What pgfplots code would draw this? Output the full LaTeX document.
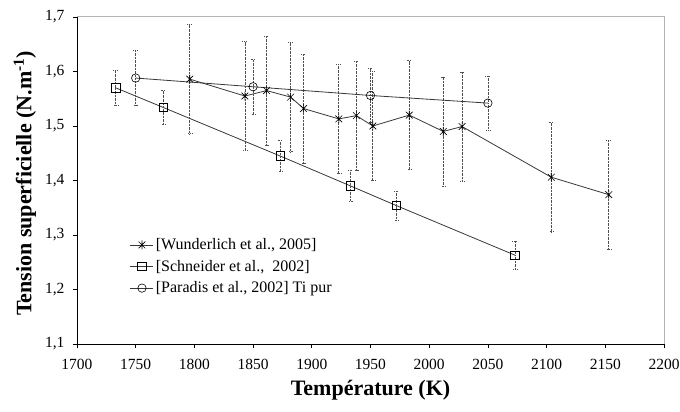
\documentclass[border=0pt]{standalone}
\usepackage{fontspec}
\setmainfont{Liberation Serif}
\usepackage{pgfplots}
\pgfplotsset{compat=1.18}
\definecolor{ln}{HTML}{383838}
\definecolor{eb}{HTML}{505050}
\definecolor{bord}{HTML}{B4B4B4}
\pgfdeclareplotmark{xstar}{%
  \pgfpathmoveto{\pgfqpoint{0pt}{\pgfplotmarksize}}%
  \pgfpathlineto{\pgfqpoint{0pt}{-\pgfplotmarksize}}%
  \pgfpathmoveto{\pgfqpoint{0.75\pgfplotmarksize}{0.75\pgfplotmarksize}}%
  \pgfpathlineto{\pgfqpoint{-0.75\pgfplotmarksize}{-0.75\pgfplotmarksize}}%
  \pgfpathmoveto{\pgfqpoint{-0.75\pgfplotmarksize}{0.75\pgfplotmarksize}}%
  \pgfpathlineto{\pgfqpoint{0.75\pgfplotmarksize}{-0.75\pgfplotmarksize}}%
  \pgfusepathqstroke
  \pgfpathcircle{\pgfpointorigin}{0.8pt}\pgfusepathqfill}
\pgfplotstableread{
x y e
1796 1.586 0.1
1843 1.555 0.1
1861.5 1.565 0.1
1882 1.553 0.1
1893 1.532 0.1
1923 1.513 0.1
1938 1.519 0.1
1952 1.500 0.1
1983 1.520 0.1
2012 1.490 0.1
2028 1.499 0.1
2104 1.406 0.1
2153 1.374 0.1
}\wund
\pgfplotstableread{
x y e
1733 1.570 0.032
1773.5 1.534 0.031
1873 1.445 0.028
1933 1.390 0.028
1972 1.354 0.027
2073 1.263 0.026
}\schn
\pgfplotstableread{
x y e
1750 1.588 0.05
1850 1.572 0.05
1950 1.556 0.05
2050 1.542 0.05
}\para
\begin{document}
\begin{tikzpicture}
\useasboundingbox (-77bp,-68bp) rectangle (603bp,344bp);
\begin{axis}[
  name=ax, at={(0,0)}, anchor=south west,
  scale only axis, width=587bp, height=327bp,
  xmin=1700, xmax=2200, ymin=1.1, ymax=1.7,
  xtick={1700,1750,1800,1850,1900,1950,2000,2050,2100,2150,2200},
  ytick={1.1,1.2,1.3,1.4,1.5,1.6,1.7},
  axis x line=bottom, axis y line=left,
  axis line style={-, black, line width=0.9bp},
  tick align=outside, major tick length=4bp,
  tick style={black, line width=0.8bp},
  /pgf/number format/assume math mode=true,
  xticklabel style={font=\fontsize{15.5bp}{18bp}\selectfont, yshift=-8bp, /pgf/number format/set thousands separator={}},
  yticklabel style={font=\fontsize{15.5bp}{18bp}\selectfont, xshift=-5bp, /pgf/number format/.cd, use comma, fixed, fixed zerofill, precision=1},
  xlabel={\textbf{Température (K)}},
  xlabel style={font=\fontsize{22bp}{26bp}\selectfont, at={(axis description cs:0.5,-0.142)}, anchor=center},
  ylabel={\textbf{Tension superficielle (N.m\textsuperscript{-1})}},
  ylabel style={font=\fontsize{22bp}{26bp}\selectfont, at={(axis description cs:-0.0886,0.491)}, anchor=center},
  legend style={at={(axis description cs:0.085,0.335)}, anchor=north west, draw=none, fill=none,
    font=\fontsize{16bp}{18bp}\selectfont, row sep=5bp, cells={anchor=west}},
  legend image code/.code={\draw[mark repeat=2,mark phase=2] plot coordinates {(0bp,0bp) (11.5bp,0bp) (23bp,0bp)};},
  clip=false,
]
\addplot[ln, line width=0.8bp, mark=xstar, mark size=4.5bp, mark options={black, solid, line width=0.6bp},
  error bars/.cd, y dir=both, y explicit,
  error bar style={densely dotted, eb, line width=0.7bp},
  error mark options={rotate=90, mark size=2.5bp, densely dotted, eb, line width=0.7bp}]
  table[x=x, y=y, y error=e] {\wund};
\addlegendentry{[Wunderlich et al., 2005]}
\addplot[ln, line width=0.8bp, mark=square, mark size=4.2bp, mark options={black, solid, line width=0.6bp},
  error bars/.cd, y dir=both, y explicit,
  error bar style={densely dotted, eb, line width=0.7bp},
  error mark options={rotate=90, mark size=2.5bp, densely dotted, eb, line width=0.7bp}]
  table[x=x, y=y, y error=e] {\schn};
\addlegendentry{[Schneider et al.,~~2002]}
\addplot[ln, line width=0.8bp, mark=o, mark size=4.2bp, mark options={black, solid, line width=0.6bp},
  error bars/.cd, y dir=both, y explicit,
  error bar style={densely dotted, eb, line width=0.7bp},
  error mark options={rotate=90, mark size=2.5bp, densely dotted, eb, line width=0.7bp}]
  table[x=x, y=y, y error=e] {\para};
\addlegendentry{[Paradis et al., 2002] Ti pur}
\end{axis}
\draw[bord, line width=1bp] (ax.north west) -- (ax.north east) -- (ax.south east);
\end{tikzpicture}
\end{document}
